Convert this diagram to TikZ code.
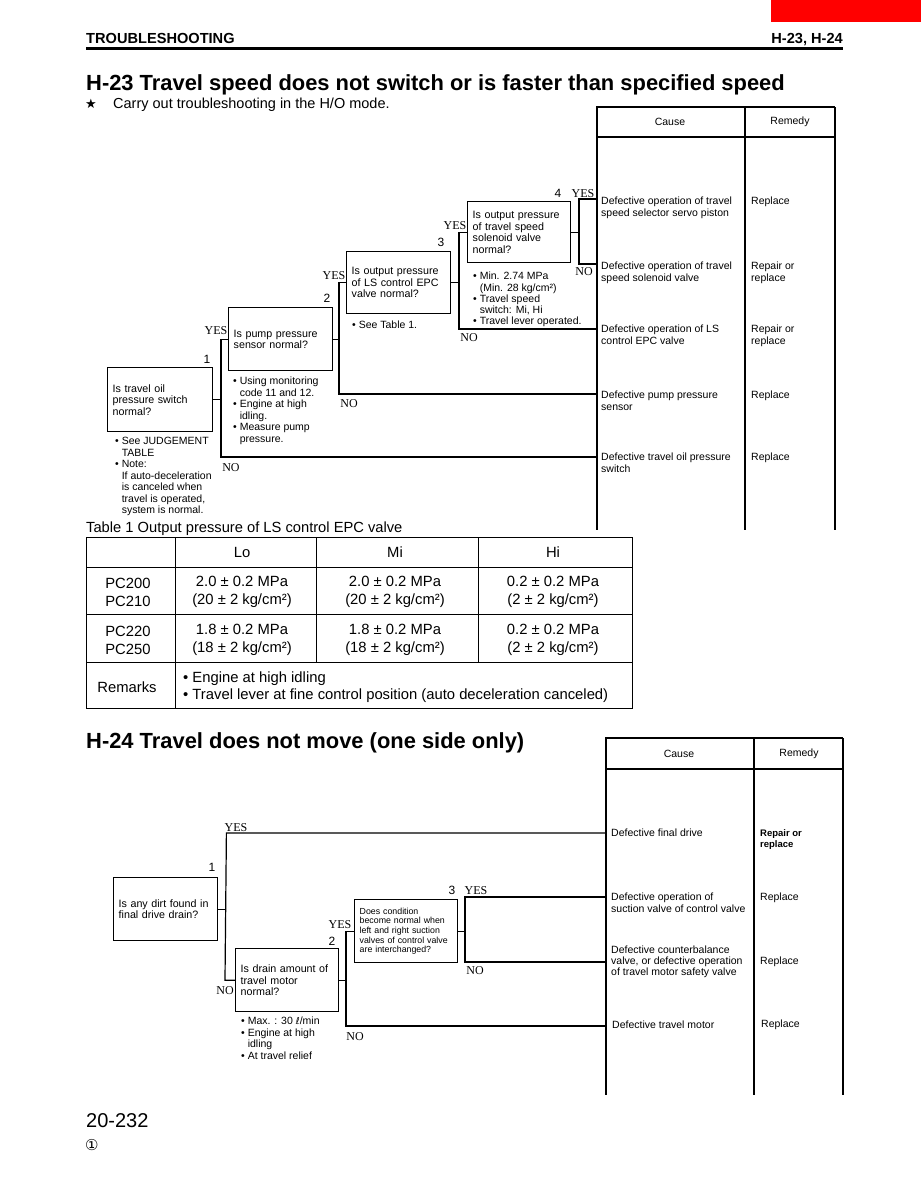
\documentclass[tikz,border=0pt]{standalone}
\usepackage{fontspec}
\setmainfont{Liberation Sans}
\newfontfamily\myserif{Liberation Serif}
\newfontfamily\mydejavu{DejaVu Sans}
\newcommand\fsz[2]{\fontsize{#1}{#2}\selectfont}
\newcommand\myind{\phantom{•~}}
\begin{document}
\begin{tikzpicture}[x=1pt,y=-1pt,
  qbox/.style={draw,line width=1.4pt,anchor=north west,align=left,inner xsep=5pt,inner ysep=0pt,font=\fsz{10.7}{11.5}},
  wire/.style={line width=1.2pt},
  tline/.style={line width=1.1pt},
  note/.style={anchor=north west,align=left,inner sep=0pt,font=\fsz{10.5}{11.5}},
  yn/.style={anchor=base,inner sep=0pt,font=\myserif\fsz{12}{12}},
  num/.style={anchor=base,inner sep=0pt,font=\fsz{12}{12}},
  cause/.style={anchor=north west,align=left,inner sep=0pt,font=\fsz{10.5}{11.5}},
  head/.style={inner sep=0pt,font=\fsz{10.5}{11.5}},
  tab/.style={inner sep=0pt,font=\fsz{14.8}{18},align=center},
]
\useasboundingbox (0,0) rectangle (921,1187);
\fill[white] (0,0) rectangle (921,1187);

% ---------- page header ----------
\fill[red] (771,0) rectangle (921,22);
\node[anchor=base west,inner sep=0pt,font=\bfseries\fsz{14.6}{14.6}] (hdrL) at (86,43) {TROUBLESHOOTING};
\node[anchor=base east,inner sep=0pt,font=\bfseries\fsz{14.6}{14.6}] (hdrR) at (843,43) {H-23, H-24};
\draw[line width=3pt] (86,48) -- (843,48);

% ---------- H-23 ----------
\node[anchor=base west,inner sep=0pt,font=\bfseries\fsz{21.9}{24}] (t23) at (86,90) {H-23 Travel speed does not switch or is faster than specified speed};
\node[anchor=base west,inner sep=0pt,font=\mydejavu\fsz{13}{13}] (star) at (85,108) {★};
\node[anchor=base west,inner sep=0pt,font=\fsz{14.5}{14.5}] (carry) at (113,108) {Carry out troubleshooting in the H/O mode.};

% cause table A
\coordinate (TA) at (597,107);
\draw[tline] (596,107) -- (835,107);
\draw[tline] (597,137) -- (835,137);
\draw[tline] (597,107) -- (597,530);
\draw[tline] (745,107) -- (745,530);
\draw[tline] (835,107) -- (835,530);
\node[head] (cA) at (670,122) {Cause};
\node[head] (rA) at (790,122) {Remedy};
\node[cause] (ca1) at (601,197) {Defective operation of travel\\speed selector servo piston};
\node[cause] (ra1) at (751,197) {Replace};
\node[cause] (ca2) at (601,262) {Defective operation of travel\\speed solenoid valve};
\node[cause] (ra2) at (751,262) {Repair or\\replace};
\node[cause] (ca3) at (601,325) {Defective operation of LS\\control EPC valve};
\node[cause] (ra3) at (751,325) {Repair or\\replace};
\node[cause] (ca4) at (601,391) {Defective pump pressure\\sensor};
\node[cause] (ra4) at (751,391) {Replace};
\node[cause] (ca5) at (601,453) {Defective travel oil pressure\\switch};
\node[cause] (ra5) at (751,453) {Replace};

% boxes
\node[qbox,text width=95pt,minimum height=64pt] (a1) at (107,367) {Is travel oil\\pressure switch\\normal?};
\node[qbox,text width=94pt,minimum height=63pt] (a2) at (228,307) {Is pump pressure\\sensor normal?};
\node[qbox,text width=94pt,minimum height=62pt] (a3) at (346,251) {Is output pressure\\of LS control EPC\\valve normal?};
\node[qbox,text width=93pt,minimum height=61pt] (a4) at (467,201) {Is output pressure\\of travel speed\\solenoid valve\\normal?};

% notes
\node[note] (na1) at (115,437) {•~See JUDGEMENT\\\myind TABLE\\•~Note:\\\myind If auto-deceleration\\\myind is canceled when\\\myind travel is operated,\\\myind system is normal.};
\node[note] (na2) at (233,377) {•~Using monitoring\\\myind code 11 and 12.\\•~Engine at high\\\myind idling.\\•~Measure pump\\\myind pressure.};
\node[note] (na3) at (352,321) {•~See Table 1.};
\node[note,font=\fsz{10.5}{11.2}] (na4) at (473,272) {•~Min. 2.74 MPa\\\myind(Min. 28 kg/cm²)\\•~Travel speed\\\myind switch: Mi, Hi\\•~Travel lever operated.};

% brackets
\path (a2.west) ++(-7,0) coordinate (k1t);
\coordinate (k1b) at (221,457);
\path (a3.west) ++(-7,0) coordinate (k2t);
\coordinate (k2b) at (339,394);
\path (a4.west) ++(-8,0) coordinate (k3t);
\coordinate (k3b) at (459,329);
\coordinate (k4t) at (579,199);
\coordinate (k4b) at (579,264);

\draw[wire] (a1.east) -- (a1.east -| k1t);
\draw[wire] (a2.west) -- (k1t) -- (k1b) -- (k1b -| TA);
\draw[wire] (a2.east) -- (a2.east -| k2t);
\draw[wire] (a3.west) -- (k2t) -- (k2b) -- (k2b -| TA);
\draw[wire] (a3.east) -- (a3.east -| k3t);
\draw[wire] (a4.west) -- (k3t) -- (k3b) -- (k3b -| TA);
\draw[wire] (a4.east) -- (a4.east -| k4t);
\draw[wire] (k4t -| TA) -- (k4t) -- (k4b) -- (k4b -| TA);

% labels
\node[num] (n1) at (207,363) {1};
\node[num] (n2) at (327,302) {2};
\node[num] (n3) at (441,246) {3};
\node[num] (n4) at (558,197) {4};
\node[yn] (y1) at (216,334) {YES};
\node[yn] (y2) at (334,279) {YES};
\node[yn] (y3) at (455,229) {YES};
\node[yn] (y4) at (583,197) {YES};
\node[yn] (no1) at (231,471) {NO};
\node[yn] (no2) at (349,407) {NO};
\node[yn] (no3) at (469,341) {NO};
\node[yn] (no4) at (584,275) {NO};

% ---------- Table 1 ----------
\node[anchor=base west,inner sep=0pt,font=\fsz{14.7}{14.7}] (t1title) at (86,532) {Table 1 Output pressure of LS control EPC valve};
\draw[line width=1pt] (86,537) rectangle (632,708);
\draw[line width=1pt] (86,567) -- (632,567) (86,614) -- (632,614) (86,662) -- (632,662);
\draw[line width=1pt] (175,537) -- (175,708) (316,537) -- (316,662) (478,537) -- (478,662);
\node[tab] (hLo) at (242,552) {Lo};
\node[tab] (hMi) at (395,552) {Mi};
\node[tab] (hHi) at (553,552) {Hi};
\node[tab] (m1) at (128,592) {PC200\\PC210};
\node[tab] (v11) at (242,592) {2.0 ± 0.2 MPa\\(20 ± 2 kg/cm²)};
\node[tab] (v12) at (395,592) {2.0 ± 0.2 MPa\\(20 ± 2 kg/cm²)};
\node[tab] (v13) at (553,592) {0.2 ± 0.2 MPa\\(2 ± 2 kg/cm²)};
\node[tab] (m2) at (128,640) {PC220\\PC250};
\node[tab] (v21) at (242,640) {1.8 ± 0.2 MPa\\(18 ± 2 kg/cm²)};
\node[tab] (v22) at (395,640) {1.8 ± 0.2 MPa\\(18 ± 2 kg/cm²)};
\node[tab] (v23) at (553,640) {0.2 ± 0.2 MPa\\(2 ± 2 kg/cm²)};
\node[tab] (rem) at (127,687) {Remarks};
\node[tab,anchor=west,align=left,font=\fsz{14.8}{17}] (remtxt) at (183,687.5) {•~Engine at high idling\\•~Travel lever at fine control position (auto deceleration canceled)};

% ---------- H-24 ----------
\node[anchor=base west,inner sep=0pt,font=\bfseries\fsz{21.9}{24}] (t24) at (86,748) {H-24 Travel does not move (one side only)};

\coordinate (TB) at (606,738);
\draw[tline] (605,738) -- (843,738);
\draw[tline] (606,769) -- (843,769);
\draw[tline] (606,738) -- (606,1095);
\draw[tline] (754,738) -- (754,1095);
\draw[tline] (843,738) -- (843,1095);
\node[head] (cB) at (679,754) {Cause};
\node[head] (rB) at (799,754) {Remedy};
\node[cause] (cb1) at (611,829) {Defective final drive};
\node[cause,font=\bfseries\fsz{9.5}{11}] (rb1) at (760,829) {Repair or\\replace};
\node[cause] (cb2) at (611,893) {Defective operation of\\suction valve of control valve};
\node[cause] (rb2) at (760,893) {Replace};
\node[cause,font=\fsz{10.5}{11}] (cb3) at (611,946) {Defective counterbalance\\valve, or defective operation\\of travel motor safety valve};
\node[cause] (rb3) at (760,957) {Replace};
\node[cause] (cb4) at (612,1021) {Defective travel motor};
\node[cause] (rb4) at (761,1020) {Replace};

\node[qbox,text width=94pt,minimum height=63pt] (d1) at (113,877) {Is any dirt found in\\final drive drain?};
\node[qbox,text width=93pt,minimum height=63pt] (d2) at (235,948) {Is drain amount of\\travel motor\\normal?};
\node[qbox,text width=93pt,minimum height=63pt,font=\fsz{8.8}{9.7}] (d3) at (354,899) {Does condition\\become normal when\\left and right suction\\valves of control valve\\are interchanged?};

\node[note] (nd2) at (241,1017) {•~Max. : 30 {\mydejavu\fsz{9.5}{9.5}ℓ}/min\\•~Engine at high\\\myind idling\\•~At travel relief};

\path (d1.east) ++(8,0) coordinate (j1m);
\coordinate (j1t) at (j1m |- 0,833);
\path (d2.west) ++(-10,0) coordinate (j1b);
\path (d3.west) ++(-8,0) coordinate (j2t);
\coordinate (j2b) at (346,1026);
\coordinate (j3t) at (465,897);
\coordinate (j3b) at (465,962);

\draw[wire] (d1.east) -- (j1m);
\draw[wire] (j1t -| TB) -- (j1t) -- (j1b) -- (d2.west);
\draw[wire] (d2.east) -- (d2.east -| j2t);
\draw[wire] (d3.west) -- (j2t) -- (j2b) -- (j2b -| TB);
\draw[wire] (d3.east) -- (d3.east -| j3t);
\draw[wire] (j3t -| TB) -- (j3t) -- (j3b) -- (j3b -| TB);

\node[num] (e1) at (212,871) {1};
\node[num] (e2) at (332,945) {2};
\node[num] (e3) at (452,894) {3};
\node[yn] (z1) at (236,831) {YES};
\node[yn] (zn1) at (225,994) {NO};
\node[yn] (z2) at (340,928) {YES};
\node[yn] (zn2) at (355,1040) {NO};
\node[yn] (z3) at (476,894) {YES};
\node[yn] (zn3) at (475,974) {NO};

% ---------- footer ----------
\node[anchor=base west,inner sep=0pt,font=\fsz{20}{20}] (pg) at (86,1127) {20-232};
\node[anchor=base west,inner sep=0pt,font=\mydejavu\fsz{15}{15}] (rev) at (85,1150) {①};
\end{tikzpicture}
\end{document}
